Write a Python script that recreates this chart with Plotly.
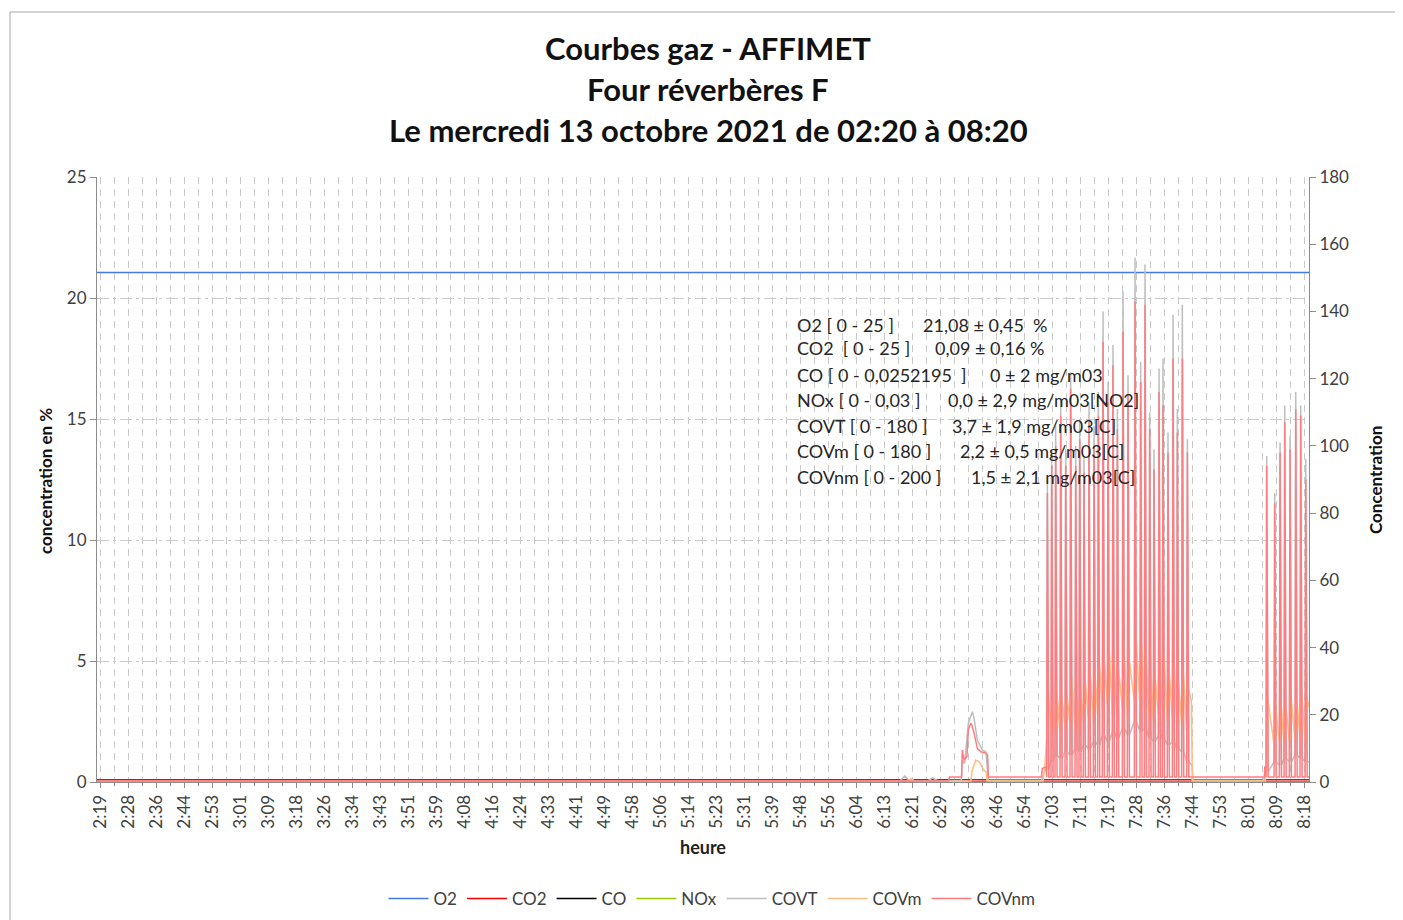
import plotly.graph_objects as go
import pandas as pd

DAY = "2021-10-13 "
FONT = "Lato"

# ---------------- data ----------------
tick_labels = ["2:19", "2:28", "2:36", "2:44", "2:53", "3:01", "3:09", "3:18", "3:26", "3:34",
               "3:43", "3:51", "3:59", "4:08", "4:16", "4:24", "4:33", "4:41", "4:49", "4:58",
               "5:06", "5:14", "5:23", "5:31", "5:39", "5:48", "5:56", "6:04", "6:13", "6:21",
               "6:29", "6:38", "6:46", "6:54", "7:03", "7:11", "7:19", "7:28", "7:36", "7:44",
               "7:53", "8:01", "8:09", "8:18"]
TICK0 = "02:19:40"
TICK_STEP_S = 500
X_START, X_END = "02:18:46", "08:19:29"

span_times = ["02:18:46", "08:19:40"]
o2_values = [21.05, 21.05]
co2_values = [0.09, 0.09]
co_values = [0.0, 0.0]
nox_values = [0.0, 0.0]

# explicit (non-spike) points
covt_times = ["02:18:46", "06:17:30", "06:19:10", "06:20:30", "06:22:00", "06:26:00", "06:27:30",
              "06:29:00", "06:36:00", "06:36:18", "06:37:00", "06:38:06", "06:39:17", "06:39:47",
              "06:40:47", "06:42:18", "06:43:19", "06:44:03", "06:59:50", "07:00:40",
              "07:44:40", "07:45:00", "08:06:00", "08:06:30", "08:19:40"]
covt_values = [0.0, 0.0, 1.8, 0.4, 0.3, 0.3, 1.2,
               0.3, 0.5, 6.5, 5.5, 17.5, 20.9, 19.0,
               12.5, 9.5, 9.0, 0.5, 0.5, 3.0,
               5.0, 0.5, 0.5, 2.0, 6.0]

covm_times = ["02:18:46", "06:20:00", "06:21:00", "06:22:30", "06:38:50", "06:39:17", "06:40:17",
              "06:41:18", "06:42:49", "06:43:27", "06:43:40", "07:00:20", "07:01:00",
              "07:44:30", "07:44:45", "08:06:30", "08:19:40"]
covm_values = [0.0, 0.0, 1.0, 0.0, 0.3, 3.6, 6.5,
               6.0, 3.4, 3.0, 0.3, 0.3, 6.0,
               24.0, 0.3, 0.3, 22.0]

covnm_times = ["02:18:46", "06:32:10", "06:32:30", "06:36:05", "06:36:18", "06:36:49", "06:37:40",
               "06:38:06", "06:38:48", "06:39:06", "06:39:47", "06:40:47", "06:41:48", "06:43:19",
               "06:43:50", "06:44:03", "06:59:50", "07:00:05", "07:01:15",
               "07:44:30", "08:06:10", "08:06:20", "08:06:35", "08:19:40"]
covnm_values = [0.3, 0.3, 1.5, 1.5, 9.5, 6.5, 7.5,
                15.5, 17.5, 17.0, 14.6, 10.0, 9.0, 8.6,
                8.0, 1.5, 1.5, 4.0, 4.5,
                1.5, 1.5, 4.5, 4.5, 1.5]
COVNM_FLOOR = 1.5

# spike cluster 1 (07:01 - 07:44)
spike1_times = ["07:01:37", "07:02:54", "07:04:05", "07:05:35", "07:07:04", "07:08:33", "07:10:03",
                "07:11:14", "07:12:31", "07:14:01", "07:15:30", "07:16:47", "07:18:11", "07:19:40",
                "07:21:09", "07:22:27", "07:24:08", "07:25:37", "07:27:42", "07:29:23", "07:30:41",
                "07:32:04", "07:33:21", "07:34:51", "07:36:02", "07:37:31", "07:39:01", "07:40:18",
                "07:41:47", "07:43:17"]
covnm1_peaks = [86, 94, 100, 109, 94, 117, 94, 102, 92, 107, 100, 109, 131, 113, 124, 105, 134, 115,
                143, 119, 142, 105, 93, 116, 112, 98, 126, 104, 126, 98]
covt1_peaks = [90, 99, 106, 114, 99, 122, 100, 108, 97, 113, 106, 116, 140, 119, 130, 111, 146, 121,
               156, 125, 154, 110, 99, 123, 126, 104, 139, 111, 142, 102]
covt1_lows = [4, 6, 8, 7, 9, 8, 10, 9, 11, 10, 12, 11, 14, 12, 15, 13, 16, 14, 18, 15, 16, 13, 12,
              14, 13, 11, 12, 10, 9, 6]
covm1_peaks = [27, 30, 28, 26, 27, 31, 29, 28, 31, 34, 32, 36, 38, 42, 37, 34, 40, 37, 44, 40, 38,
               35, 32, 37, 39, 34, 37, 31, 33, 28]
covm1_lows = [14, 16, 15, 14, 16, 17, 16, 15, 18, 19, 18, 20, 21, 23, 20, 19, 22, 20, 24, 22, 21,
              19, 18, 20, 21, 18, 19, 17, 17, 15]

# spike cluster 2 (08:06 - 08:19)
spike2_times = ["08:06:54", "08:09:17", "08:10:52", "08:12:16", "08:13:50", "08:15:32", "08:17:01",
                "08:18:31"]
covnm2_peaks = [94, 83, 98, 107, 99, 111, 109, 90]
covt2_peaks = [97, 86, 101, 112, 103, 116, 112, 96]
covt2_lows = [3, 6, 5, 7, 6, 8, 7, 6]
covm2_peaks = [25, 22, 24, 23, 26, 25, 27, 25]
covm2_lows = [10, 11, 12, 11, 12, 12, 13, 12]

stats_labels = ["O2 [ 0 - 25 ]", "CO2  [ 0 - 25 ]", "CO [ 0 - 0,0252195  ]", "NOx [ 0 - 0,03 ]",
                "COVT [ 0 - 180 ]", "COVm [ 0 - 180 ]", "COVnm [ 0 - 200 ]"]
stats_values = ["21,08 ± 0,45  %", "0,09 ± 0,16 %", "0 ± 2 mg/m03", "0,0 ± 2,9 mg/m03[NO2]",
                "3,7 ± 1,9 mg/m03[C]", "2,2 ± 0,5 mg/m03[C]", "1,5 ± 2,1 mg/m03[C]"]

# ---------------- helpers ----------------
def ts(t):
    return pd.Timestamp(DAY + t)

SEC = pd.Timedelta(seconds=1)


def explicit(times, values):
    return [(ts(t), v) for t, v in zip(times, values)]


def spikes(times, peaks, lows, pre=12, post=25):
    pts = []
    for t, p, lo in zip(times, peaks, lows):
        b = ts(t)
        pts += [(b - pre * SEC, lo), (b, p), (b + post * SEC, lo)]
    return pts


def waves(times, peaks, lows, pre=10, post=15):
    pts = []
    for t, p, lo in zip(times, peaks, lows):
        b = ts(t)
        pts += [(b - pre * SEC, lo), (b + post * SEC, p)]
    return pts


def xy(pts):
    pts = sorted(pts, key=lambda a: a[0])
    return [p[0] for p in pts], [p[1] for p in pts]


covnm_pts = explicit(covnm_times, covnm_values)
covnm_pts += spikes(spike1_times, covnm1_peaks, [COVNM_FLOOR] * len(spike1_times))
covnm_pts += spikes(spike2_times, covnm2_peaks, [COVNM_FLOOR] * len(spike2_times))

covt_pts = explicit(covt_times, covt_values)
covt_pts += spikes(spike1_times, covt1_peaks, covt1_lows)
covt_pts += spikes(spike2_times, covt2_peaks, covt2_lows)

covm_pts = explicit(covm_times, covm_values)
covm_pts += waves(spike1_times, covm1_peaks, covm1_lows)
covm_pts += waves(spike2_times, covm2_peaks, covm2_lows)

span_x = [ts(t) for t in span_times]

fig = go.Figure()
fig.add_trace(go.Scatter(x=span_x, y=o2_values, name="O2", mode="lines",
                         line=dict(color="#4678E6", width=1.5), yaxis="y"))
fig.add_trace(go.Scatter(x=span_x, y=co2_values, name="CO2", mode="lines",
                         line=dict(color="#FF0000", width=1.6), yaxis="y"))
fig.add_trace(go.Scatter(x=span_x, y=co_values, name="CO", mode="lines",
                         line=dict(color="#000000", width=1.6), yaxis="y2"))
fig.add_trace(go.Scatter(x=span_x, y=nox_values, name="NOx", mode="lines",
                         line=dict(color="#99CC00", width=1.6), yaxis="y2"))
x, y = xy(covt_pts)
fig.add_trace(go.Scatter(x=x, y=y, name="COVT", mode="lines",
                         line=dict(color="#BEBEBE", width=1.5), yaxis="y2"))
x, y = xy(covm_pts)
fig.add_trace(go.Scatter(x=x, y=y, name="COVm", mode="lines",
                         line=dict(color="#FFBF80", width=1.6), yaxis="y2"))
x, y = xy(covnm_pts)
fig.add_trace(go.Scatter(x=x, y=y, name="COVnm", mode="lines",
                         line=dict(color="#FF7C80", width=1.5), yaxis="y2"))

# ---------------- layout ----------------
# page is rendered with an 8px body offset; figure sized to fit the window
OFF = 8
W, H = 1403 - OFF, 920 - OFF
L, R, T, B = 97, 1309, 177, 782   # plot area in page pixels


def px(xp):
    return (xp - L) / (R - L)


def py(yp):
    return (B - yp) / (B - T)


tick0 = ts(TICK0)
tickvals = [tick0 + pd.Timedelta(seconds=TICK_STEP_S * i) for i in range(len(tick_labels))]

GRID = "#CACACA"
AX = "#8C8C8C"
TXT = "#404040"

fig.update_layout(
    width=W, height=H,
    margin=dict(l=L - OFF, r=W - (R - OFF), t=T - OFF, b=H - (B - OFF), autoexpand=False),
    paper_bgcolor="white", plot_bgcolor="white",
    font=dict(family=FONT, color=TXT, size=14),
    showlegend=True,
    legend=dict(orientation="h", x=px(712), xanchor="center", y=py(899), yanchor="middle",
                font=dict(size=17, color=TXT), traceorder="normal", itemwidth=40),
    xaxis=dict(type="date", range=[ts(X_START), ts(X_END)],
               tickmode="array", tickvals=tickvals, ticktext=tick_labels,
               tickangle=-90, tickfont=dict(size=17, color=TXT),
               ticks="outside", ticklen=5, tickcolor=AX,
               showline=True, linecolor=AX, linewidth=1,
               showgrid=True, gridcolor=GRID, gridwidth=1, griddash="7px,5px",
               minor=dict(tick0=ts("02:23:50"), dtick=TICK_STEP_S * 1000, showgrid=True,
                          gridcolor=GRID, griddash="7px,5px", ticks="outside", ticklen=3,
                          tickcolor=AX),
               zeroline=False, automargin=False),
    yaxis=dict(range=[0, 25], dtick=5, tickfont=dict(size=17, color=TXT),
               ticks="outside", ticklen=6, tickcolor=AX,
               showline=True, linecolor=AX, linewidth=1,
               showgrid=True, gridcolor=GRID, griddash="12px,4px,3px,4px",
               zeroline=False, automargin=False),
    yaxis2=dict(range=[0, 180], dtick=20, overlaying="y", side="right",
                tickfont=dict(size=17, color=TXT),
                ticks="outside", ticklen=6, tickcolor=AX,
                showline=True, linecolor=AX, linewidth=1,
                showgrid=False, zeroline=False, automargin=False),
)

ann = []
titles = [("Courbes gaz - AFFIMET", 48), ("Four réverbères F", 89),
          ("Le mercredi 13 octobre 2021 de 02:20 à 08:20", 130)]
for txt, yp in titles:
    ann.append(dict(text="<b>" + txt + "</b>", x=px(708), y=py(yp), xref="paper", yref="paper",
                    xanchor="center", yanchor="middle", showarrow=False,
                    font=dict(size=31, color="#111111", family=FONT)))

ann.append(dict(text="<b>concentration en %</b>", x=px(46), y=py(481), xref="paper", yref="paper",
                textangle=-90, showarrow=False, xanchor="center", yanchor="middle",
                font=dict(size=17, color="#111111")))
ann.append(dict(text="<b>Concentration</b>", x=px(1375), y=py(480), xref="paper", yref="paper",
                textangle=-90, showarrow=False, xanchor="center", yanchor="middle",
                font=dict(size=17, color="#111111")))
ann.append(dict(text="<b>heure</b>", x=px(703), y=py(847), xref="paper", yref="paper",
                showarrow=False, xanchor="center", yanchor="middle",
                font=dict(size=18, color="#222222")))

line_y = [325, 348, 375, 400, 426, 451, 477]
value_x = [921, 933, 988, 946, 950, 958, 969]
for lab, val, yp, vx in zip(stats_labels, stats_values, line_y, value_x):
    ann.append(dict(text=lab.replace(" ", "\u00a0"), x=px(795), y=py(yp), xref="paper", yref="paper",
                    xanchor="left", yanchor="middle", showarrow=False,
                    font=dict(size=18, color="#262626")))
    ann.append(dict(text=val.replace(" ", "\u00a0"), x=px(vx), y=py(yp), xref="paper", yref="paper",
                    xanchor="left", yanchor="middle", showarrow=False,
                    font=dict(size=18, color="#262626")))
fig.update_layout(annotations=ann)

# chart-area border
fig.add_shape(type="rect", xref="paper", yref="paper", x0=px(10), x1=px(1420), y0=py(940), y1=py(12),
              line=dict(color="#A6A6A6", width=1), layer="below")

fig.write_html("out.html")
